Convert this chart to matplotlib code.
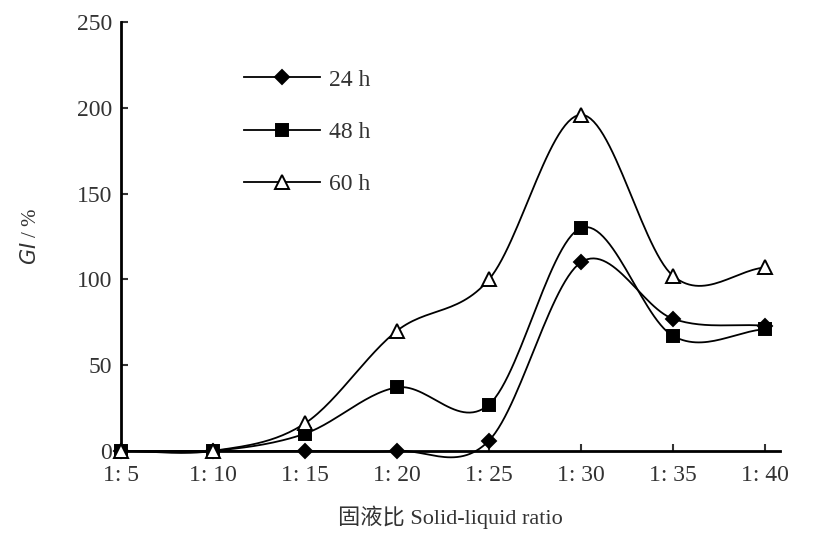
import numpy as np
import matplotlib.pyplot as plt
from matplotlib.lines import Line2D

# 固液比
ratios = [5, 10, 15, 20, 25, 30, 35, 40]
tick_labels = ['1: 5', '1: 10', '1: 15', '1: 20', '1: 25', '1: 30', '1: 35', '1: 40']

# GI / %
gi_24h = [0, 0, 0, 0, 6, 110, 77, 73]
gi_48h = [0, 0, 10, 37, 27, 130, 67, 71]
gi_60h = [0, 0, 16, 70, 100, 196, 102, 107]

plt.rcParams['font.family'] = ['Liberation Serif', 'Noto Sans CJK SC']


def smooth(x, y, n=30):
    # Catmull-Rom 平滑线（仅用于画线）
    x = np.asarray(x, float)
    y = np.asarray(y, float)
    px = np.concatenate([[2 * x[0] - x[1]], x, [2 * x[-1] - x[-2]]])
    py = np.concatenate([[2 * y[0] - y[1]], y, [2 * y[-1] - y[-2]]])
    xs, ys = [], []
    t = np.linspace(0, 1, n)
    for i in range(1, len(px) - 2):
        for p, out in ((px, xs), (py, ys)):
            p0, p1, p2, p3 = p[i - 1], p[i], p[i + 1], p[i + 2]
            out.extend(0.5 * (2 * p1 + (-p0 + p2) * t
                              + (2 * p0 - 5 * p1 + 4 * p2 - p3) * t ** 2
                              + (-p0 + 3 * p1 - 3 * p2 + p3) * t ** 3))
    return np.array(xs), np.array(ys)


fig = plt.figure(figsize=(8.21, 5.4), dpi=100)
ax = fig.add_axes([0.147, 0.165, 0.803, 0.794])

series = [
    (gi_24h, 'D', 'black', 7, '24 h'),
    (gi_48h, 's', 'black', 8, '48 h'),
    (gi_60h, '^', 'white', 10, '60 h'),
]
handles = []
for vals, mk, fc, ms, lab in series:
    sx, sy = smooth(ratios, vals)
    ax.plot(sx, sy, color='black', lw=1.3, zorder=2, clip_on=False)
    ax.plot(ratios, vals, ls='none', marker=mk, ms=ms, mfc=fc, mec='black',
            mew=1.4, zorder=3, clip_on=False)
    handles.append(Line2D([], [], color='black', lw=1.3, marker=mk, ms=ms,
                          mfc=fc, mec='black', mew=1.4, label=lab))

ax.set_xlim(5, 40.8)
ax.set_ylim(0, 250)
ax.set_xticks(ratios)
ax.set_xticklabels(tick_labels)
ax.set_yticks([0, 50, 100, 150, 200, 250])
ax.tick_params(axis='both', direction='in', length=5, width=1.5,
               labelsize=17, colors='#333333')
ax.tick_params(axis='x', pad=10)
ax.tick_params(axis='y', pad=6)
for s in ['top', 'right']:
    ax.spines[s].set_visible(False)
for s in ['left', 'bottom']:
    ax.spines[s].set_linewidth(2)

ax.set_xlabel('固液比 Solid-liquid ratio', fontsize=16, color='#333333',
              labelpad=14)
ax.set_ylabel('$GI$ / %', fontsize=15, color='#333333', labelpad=26)

ax.legend(handles=handles, loc='upper left', bbox_to_anchor=(0.155, 0.94),
          frameon=False, fontsize=17, handlelength=3.2, handletextpad=0.4,
          labelspacing=1.3, labelcolor='#333333')

fig.savefig('out.png', dpi=100)
